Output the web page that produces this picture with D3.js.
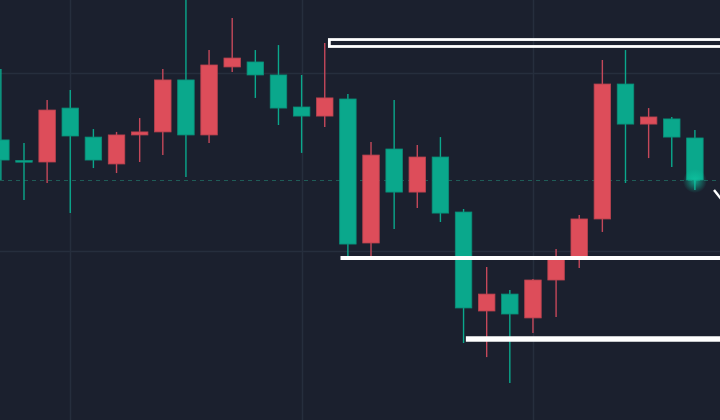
<!DOCTYPE html>
<html>
<head>
<meta charset="utf-8">
<script src="https://cdn.jsdelivr.net/npm/d3@7"></script>
<style>
  html, body { margin: 0; padding: 0; background: #1b202e; overflow: hidden; }
  svg { display: block; }
</style>
</head>
<body>
<svg id="chart" width="720" height="420"></svg>
<script>
// ---- data (OHLC) ----
const opens  = [105.11,105.03,107.92,106.46,105.11,106.52,106.69,109.61,106.52,110.45,110.84,109.89,108.03,107.58,108.60,100.39,105.39,103.31,105.28,102.13, 96.80, 97.58, 96.46, 98.37, 99.61,101.80,109.38,107.13,107.53,106.40,103.99];
const highs  = [110.22,106.07,108.48,109.04,106.85,106.69,107.47,110.22,114.38,111.29,113.09,111.29,111.57,109.89,111.69,108.82,106.12,108.48,105.96,106.40,102.36, 99.10, 97.81, 98.43,100.11,102.02,110.73,111.29,108.03,107.53,106.80];
const lows   = [103.99,102.87,103.82,102.13,104.66,104.38,105.00,105.39,104.16,106.07,110.06,108.60,107.08,105.51,106.97, 99.66, 99.72,101.24,102.42,101.63, 94.83, 94.04, 92.58, 95.39, 96.29, 99.04,101.07,103.82,105.22,104.72,103.43];
const closes = [106.24,105.08,105.00,108.03,106.40,104.89,106.52,106.69,109.61,106.52,110.34,110.62,109.89,108.09,107.58,108.54,100.45,105.73,103.31,105.28,102.19, 96.63, 97.58, 96.24, 98.37, 99.66,101.80,109.38,107.13,107.42,106.35];
// colour of each candle as drawn (g = teal, r = red)
const colours = ["g","g","r","g","g","r","r","r","g","r","r","g","g","g","r","g","r","g","r","g","g","r","g","r","r","r","r","g","r","g","g"];

const gridPrices = [100, 110];
const gridIndices = [3, 13, 23];
const lastPrice = 103.99;
// horizontal levels drawn on the chart
const zoneBox = { from: 14.2, top: 111.88, bottom: 111.49 };
const levelLines = [
  { from: 14.68, price: 99.61, width: 4 },
  { from: 20.1,  price: 95.06, width: 5.5 }
];

// ---- drawing ----
const W = 720, H = 420;
const svg = d3.select("#chart");
const x = d3.scaleLinear().domain([0, 30]).range([0.86, 694.9]);
const y = d3.scaleLinear().domain([110, 100]).range([73, 251]);
const bodyW = 16.5;
const col = { g: "#0aa88c", r: "#dd4d5a" };
const colDark = { g: "#0a8e78", r: "#b8434f" };
const wickCol = { g: "#0aa88c", r: "#c5485a" };

svg.append("rect").attr("width", W).attr("height", H).attr("fill", "#1b202e");

// grid
svg.append("g").selectAll("line").data(gridPrices).join("line")
  .attr("x1", 0).attr("x2", W)
  .attr("y1", d => Math.round(y(d)) + 0.5).attr("y2", d => Math.round(y(d)) + 0.5)
  .attr("stroke", "#262e3d").attr("stroke-width", 1.5);
svg.append("g").selectAll("line").data(gridIndices).join("line")
  .attr("y1", 0).attr("y2", H)
  .attr("x1", d => Math.round(x(d)) + 0.5).attr("x2", d => Math.round(x(d)) + 0.5)
  .attr("stroke", "#262e3d").attr("stroke-width", 1.5);

// last price dashed line
svg.append("line")
  .attr("x1", 0).attr("x2", W)
  .attr("y1", y(lastPrice) + 0.5).attr("y2", y(lastPrice) + 0.5)
  .attr("stroke", "#1f5c57").attr("stroke-width", 1.2)
  .attr("stroke-dasharray", "4,4");

const data = opens.map((o, i) => ({ i, o, h: highs[i], l: lows[i], c: closes[i], k: colours[i] }));

const g = svg.append("g");
// wicks
g.selectAll("line.wick").data(data).join("line").attr("class", "wick")
  .attr("x1", d => x(d.i)).attr("x2", d => x(d.i))
  .attr("y1", d => y(d.h)).attr("y2", d => y(d.l))
  .attr("stroke", d => wickCol[d.k]).attr("stroke-width", 1.4);
// bodies
g.selectAll("rect.body").data(data).join("rect").attr("class", "body")
  .attr("x", d => x(d.i) - bodyW / 2)
  .attr("width", bodyW)
  .attr("y", d => y(Math.max(d.o, d.c)))
  .attr("height", d => Math.max(1.6, Math.abs(y(d.o) - y(d.c))))
  .attr("fill", d => col[d.k])
  .attr("stroke", d => colDark[d.k]).attr("stroke-width", 0.8);

// glow at the last candle
const defs = svg.append("defs");
const rg = defs.append("radialGradient").attr("id", "glow");
rg.append("stop").attr("offset", "0%").attr("stop-color", "#0fc9a5").attr("stop-opacity", 0.75);
rg.append("stop").attr("offset", "100%").attr("stop-color", "#0fc9a5").attr("stop-opacity", 0);
const last = data[data.length - 1];
svg.append("circle")
  .attr("cx", x(last.i)).attr("cy", y(last.o) + 1)
  .attr("r", 12).attr("fill", "url(#glow)");

// zone box (outlined)
svg.append("rect")
  .attr("x", x(zoneBox.from)).attr("y", y(zoneBox.top))
  .attr("width", W - x(zoneBox.from) + 20)
  .attr("height", y(zoneBox.bottom) - y(zoneBox.top))
  .attr("fill", "none").attr("stroke", "#ffffff").attr("stroke-width", 2.8);

// level lines
svg.append("g").selectAll("line").data(levelLines).join("line")
  .attr("x1", d => x(d.from)).attr("x2", W)
  .attr("y1", d => y(d.price)).attr("y2", d => y(d.price))
  .attr("stroke", "#ffffff").attr("stroke-width", d => d.width);

// cursor tick at the right edge
svg.append("line")
  .attr("x1", 714).attr("y1", 190).attr("x2", 722).attr("y2", 200)
  .attr("stroke", "#ffffff").attr("stroke-width", 2.4);
</script>
</body>
</html>
